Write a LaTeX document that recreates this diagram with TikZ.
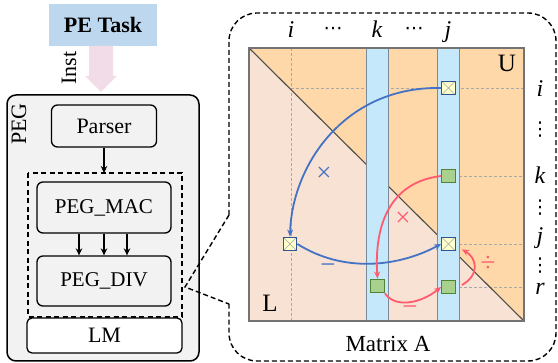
\documentclass[tikz,border=0pt]{standalone}
\usepackage{fontspec}
\setmainfont{Liberation Serif}
\newfontfamily\dotsfont{DejaVu Sans}
\usetikzlibrary{arrows.meta}
\definecolor{taskblue}{HTML}{BDD7EE}
\definecolor{instpink}{HTML}{F2DCE8}
\definecolor{pegfill}{HTML}{F2F2F2}
\definecolor{ufill}{HTML}{FED8A8}
\definecolor{lfill}{HTML}{F8E2D4}
\definecolor{colfill}{HTML}{C5E8FA}
\definecolor{colline}{HTML}{7A8A9A}
\definecolor{guidec}{HTML}{A8A8A8}
\definecolor{markyellow}{HTML}{FFFFCC}
\definecolor{markblue}{HTML}{2F5597}
\definecolor{greenfill}{HTML}{A9D18E}
\definecolor{greenline}{HTML}{548235}
\definecolor{arrblue}{HTML}{4472C4}
\definecolor{arrred}{HTML}{FF5A6E}
\begin{document}
\begin{tikzpicture}[x=1pt,y=-1pt,
  txt/.style={font=\fontsize{22}{26}\selectfont, inner sep=0pt},
  optxt/.style={font=\fontsize{27}{30}\selectfont, inner sep=0pt},
  petask/.style={fill=taskblue, minimum width=108pt, minimum height=42pt, inner sep=0pt, font=\fontsize{22}{26}\selectfont\bfseries},
  pegbox/.style={draw, line width=1.3pt, rounded corners=6pt, fill=pegfill, inner sep=0pt, font=\fontsize{21}{24}\selectfont},
  lmbox/.style={draw, line width=1.3pt, rounded corners=5pt, fill=white, inner sep=0pt, font=\fontsize{22}{26}\selectfont},
  blackarrow/.style={-{Stealth[length=7pt,width=6.5pt]}, line width=2pt},
  guide/.style={draw=guidec, line width=0.6pt, dash pattern=on 3pt off 2pt},
  colrect/.style={draw=colline, fill=colfill, line width=1pt},
  ymark/.style={draw=markblue, fill=markyellow, line width=1.3pt, minimum size=13.5pt, inner sep=0pt,
    path picture={\draw[gray!70, line width=0.5pt] (path picture bounding box.north west) -- (path picture bounding box.south east) (path picture bounding box.north east) -- (path picture bounding box.south west);}},
  gmark/.style={draw=greenline, fill=greenfill, line width=1.3pt, minimum size=13.5pt, inner sep=0pt},
  barrow/.style={draw=arrblue, line width=1.8pt, -{Stealth[length=7pt,width=6pt]}},
  rarrow/.style={draw=arrred, line width=1.8pt, -{Stealth[length=7pt,width=6pt]}},
  mathlbl/.style={font=\fontsize{24}{28}\selectfont\itshape, inner sep=0pt, anchor=base},
  hdots/.style={font=\dotsfont\fontsize{19}{22}\selectfont, inner sep=0pt},
  vdotsl/.style={font=\dotsfont\fontsize{19}{22}\selectfont, inner sep=0pt},
  callout/.style={draw, line width=1.4pt, dash pattern=on 5pt off 3pt},
]
\useasboundingbox (0,0) rectangle (558,363);

% ---------- left part ----------
\node[petask] (pe) at (103,25) {PE Task};
\fill[instpink] (89,46) -- (113,46) -- (113,76) -- (117,76) -- (101,92) -- (85,76) -- (89,76) -- cycle;
\node[txt, rotate=90] (inst) at (69,68) {Inst};

\draw[line width=1.5pt, rounded corners=9pt, fill=pegfill] (7,95) rectangle (199,361);
\node[txt, rotate=90] (peglbl) at (19,124) {PEG};

\node[pegbox, minimum width=105pt, minimum height=42pt, font=\fontsize{22}{26}\selectfont] (parser) at (104,126) {Parser};
\draw[line width=1.4pt, dash pattern=on 5pt off 3.5pt] (28,173) rectangle (182,317);
\coordinate (dtop) at (104,173);
\draw[blackarrow] (parser.south) -- (dtop);

\node[pegbox, minimum width=134pt, minimum height=51pt] (mac) at (104,207.5) {PEG\_MAC};
\node[pegbox, minimum width=134pt, minimum height=50pt] (div) at (104,281) {PEG\_DIV};
\draw[blackarrow] (mac.south -| 79,0) -- (div.north -| 79,0);
\draw[blackarrow] (mac.south) -- (div.north);
\draw[blackarrow] (mac.south -| 127,0) -- (div.north -| 127,0);

\node[lmbox, minimum width=155pt, minimum height=35pt] (lm) at (104.5,335.5) {LM};

% ---------- callout container ----------
\coordinate (tip) at (185,287);
\draw[callout, rounded corners=28pt] (229,215) -- (229,13) -- (556,13) -- (556,361) -- (229,361) -- (229,304);
\draw[callout] (229,215) -- (tip) -- (229,304);

% ---------- matrix ----------
\fill[lfill] (249,48) -- (249,321) -- (524,321) -- cycle;
\fill[ufill] (249,48) -- (524,48) -- (524,321) -- cycle;
\draw[guide] (291,48) -- (291,321);
\draw[guide] (291,88) -- (524,88);
\draw[guide] (459,176) -- (524,176);
\draw[guide] (459,244) -- (524,244);
\draw[guide] (459,287) -- (524,287);
\draw[line width=1.1pt, black!70] (249,48) -- (524,321);
\draw[colrect] (366.7,48) rectangle (388.3,321);
\draw[colrect] (437.7,48) rectangle (459.3,321);
\draw[line width=1.2pt, black!55] (249,48) rectangle (524,321);

\node[ymark] (mij) at (448.5,88) {};
\node[gmark] (mkj) at (448.5,176) {};
\node[ymark] (mji) at (290,244) {};
\node[ymark] (mjj) at (448.5,244) {};
\node[gmark] (mrk) at (377.5,286) {};
\node[gmark] (mrj) at (448.5,287) {};

\draw[barrow] (mij.west) .. controls (345,86) and (292,165) .. (mji.north);
\draw[barrow] (mji.east) .. controls (345,274) and (400,266) .. (mjj.west);
\draw[rarrow] (mkj.west) .. controls (390,182) and (374,225) .. (mrk.north);
\draw[rarrow] (mrk.south east) .. controls (395,308) and (420,304) .. (mrj.west);
\draw[rarrow] ([xshift=6pt,yshift=2pt]mrj.east) .. controls (480,275) and (477,258) .. ([xshift=6pt,yshift=2pt]mjj.south east);

\node[optxt, text=arrblue] (bx) at (324,174) {×};
\node[optxt, text=arrblue] (bm) at (328,269) {−};
\node[optxt, text=arrred] (rx) at (403,219) {×};
\node[optxt, text=arrred] (rm) at (410,311) {−};
\node[optxt, text=arrred] (rd) at (488,264) {÷};

% labels
\node[mathlbl] (ti) at (291,38) {i};
\node[hdots] (td1) at (333,31) {⋯};
\node[mathlbl] (tk) at (377,38) {k};
\node[hdots] (td2) at (414,31) {⋯};
\node[mathlbl] (tj) at (448,38) {j};

\node[mathlbl] (ri) at (540,97) {i};
\node[vdotsl] (rd1) at (540,130) {⋮};
\node[mathlbl] (rk) at (540,184) {k};
\node[vdotsl] (rd2) at (540,208) {⋮};
\node[mathlbl] (rj) at (540,244) {j};
\node[vdotsl] (rd3) at (540,266) {⋮};
\node[mathlbl] (rr) at (540,295) {r};

\node[txt, font=\fontsize{25}{28}\selectfont] (U) at (507,63) {U};
\node[txt, font=\fontsize{25}{28}\selectfont] (L) at (270,303) {L};
\node[txt, font=\fontsize{23}{26}\selectfont] (ma) at (388,344) {Matrix A};
\end{tikzpicture}
\end{document}
